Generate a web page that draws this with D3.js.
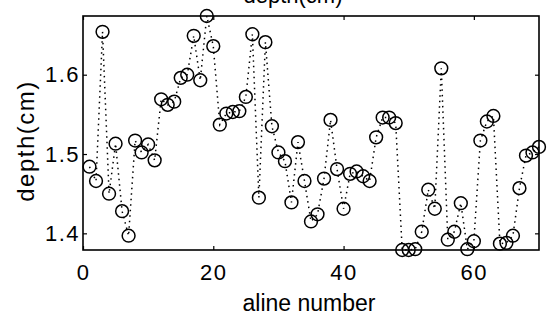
<!DOCTYPE html>
<html>
<head>
<meta charset="utf-8">
<script src="https://cdn.jsdelivr.net/npm/d3@7"></script>
<style>
  html, body { margin: 0; padding: 0; background: #fff; }
  svg { display: block; }
  text { font-family: "Liberation Sans", Arial, Helvetica, sans-serif; fill: #000; }
</style>
</head>
<body>
<svg id="chart" width="557" height="327"></svg>
<script>
// A-line index (x) and measured depth in cm (y)
const alineNumber = d3.range(1, 71);
const depth = [
  1.484, 1.466, 1.654, 1.450, 1.513, 1.428, 1.397, 1.517, 1.502, 1.512,
  1.492, 1.569, 1.562, 1.566, 1.596, 1.600, 1.649, 1.593, 1.674, 1.636,
  1.537, 1.551, 1.553, 1.554, 1.572, 1.651, 1.445, 1.641, 1.535, 1.502,
  1.491, 1.439, 1.515, 1.466, 1.415, 1.424, 1.469, 1.543, 1.481, 1.431,
  1.475, 1.478, 1.472, 1.466, 1.521, 1.546, 1.546, 1.539, 1.379, 1.379,
  1.380, 1.402, 1.455, 1.431, 1.608, 1.392, 1.402, 1.438, 1.380, 1.390,
  1.517, 1.541, 1.548, 1.387, 1.388, 1.397, 1.457, 1.498, 1.502, 1.509
];
const xTicks = [0, 20, 40, 60];
const yTicks = [1.4, 1.5, 1.6];
const xDomain = [0, 70];

const svg = d3.select("#chart");
const plot = { left: 83, right: 539, top: 16, bottom: 250 };

const x = d3.scaleLinear().domain(xDomain).range([plot.left, plot.right]);
const y = d3.scaleLinear().domain(d3.extent(depth)).range([plot.bottom, plot.top]);

const pts = alineNumber.map((a, i) => [a, depth[i]]);

// dotted connecting line
svg.append("path")
  .datum(pts)
  .attr("fill", "none")
  .attr("stroke", "#000")
  .attr("stroke-width", 1.5)
  .attr("stroke-dasharray", "1.5 4")
  .attr("d", d3.line().x(d => x(d[0])).y(d => y(d[1])));

// open circle markers
svg.append("g").selectAll("circle")
  .data(pts)
  .join("circle")
  .attr("cx", d => x(d[0]))
  .attr("cy", d => y(d[1]))
  .attr("r", 6.4)
  .attr("fill", "none")
  .attr("stroke", "#000")
  .attr("stroke-width", 1.5);

// axes with inward ticks on all four sides
function styleAxis(g) {
  g.select(".domain").remove();
  g.selectAll(".tick line").attr("stroke", "#000").attr("stroke-width", 1.2);
  g.selectAll("text").attr("font-size", 22).attr("letter-spacing", "1.5px")
    .style("font-family", '"Liberation Sans", Arial, sans-serif');
}

svg.append("g")
  .attr("transform", `translate(0,${plot.bottom})`)
  .call(d3.axisBottom(x).tickValues(xTicks).tickFormat(d3.format("d"))
    .tickSizeInner(-4).tickSizeOuter(0).tickPadding(14))
  .call(styleAxis);

svg.append("g")
  .attr("transform", `translate(0,${plot.top})`)
  .call(d3.axisTop(x).tickValues(xTicks).tickFormat("")
    .tickSizeInner(-4).tickSizeOuter(0))
  .call(styleAxis);

svg.append("g")
  .attr("transform", `translate(${plot.left},0)`)
  .call(d3.axisLeft(y).tickValues(yTicks).tickFormat(d3.format(".1f"))
    .tickSizeInner(-4).tickSizeOuter(0).tickPadding(3))
  .call(styleAxis);

svg.append("g")
  .attr("transform", `translate(${plot.right},0)`)
  .call(d3.axisRight(y).tickValues(yTicks).tickFormat("")
    .tickSizeInner(-4).tickSizeOuter(0))
  .call(styleAxis);

// axes box
svg.append("rect")
  .attr("x", plot.left).attr("y", plot.top)
  .attr("width", plot.right - plot.left).attr("height", plot.bottom - plot.top)
  .attr("fill", "none").attr("stroke", "#000").attr("stroke-width", 1.6);

// labels
svg.append("text")
  .attr("x", 293).attr("y", 3)
  .attr("text-anchor", "middle").attr("font-size", 22)
  .text("depth(cm)");

svg.append("text")
  .attr("x", 309).attr("y", 311)
  .attr("text-anchor", "middle").attr("font-size", 23)
  .text("aline number");

svg.append("text")
  .attr("transform", "translate(34,141) rotate(-90)")
  .attr("text-anchor", "middle").attr("font-size", 24)
  .attr("letter-spacing", "1.5px")
  .text("depth(cm)");
</script>
</body>
</html>
